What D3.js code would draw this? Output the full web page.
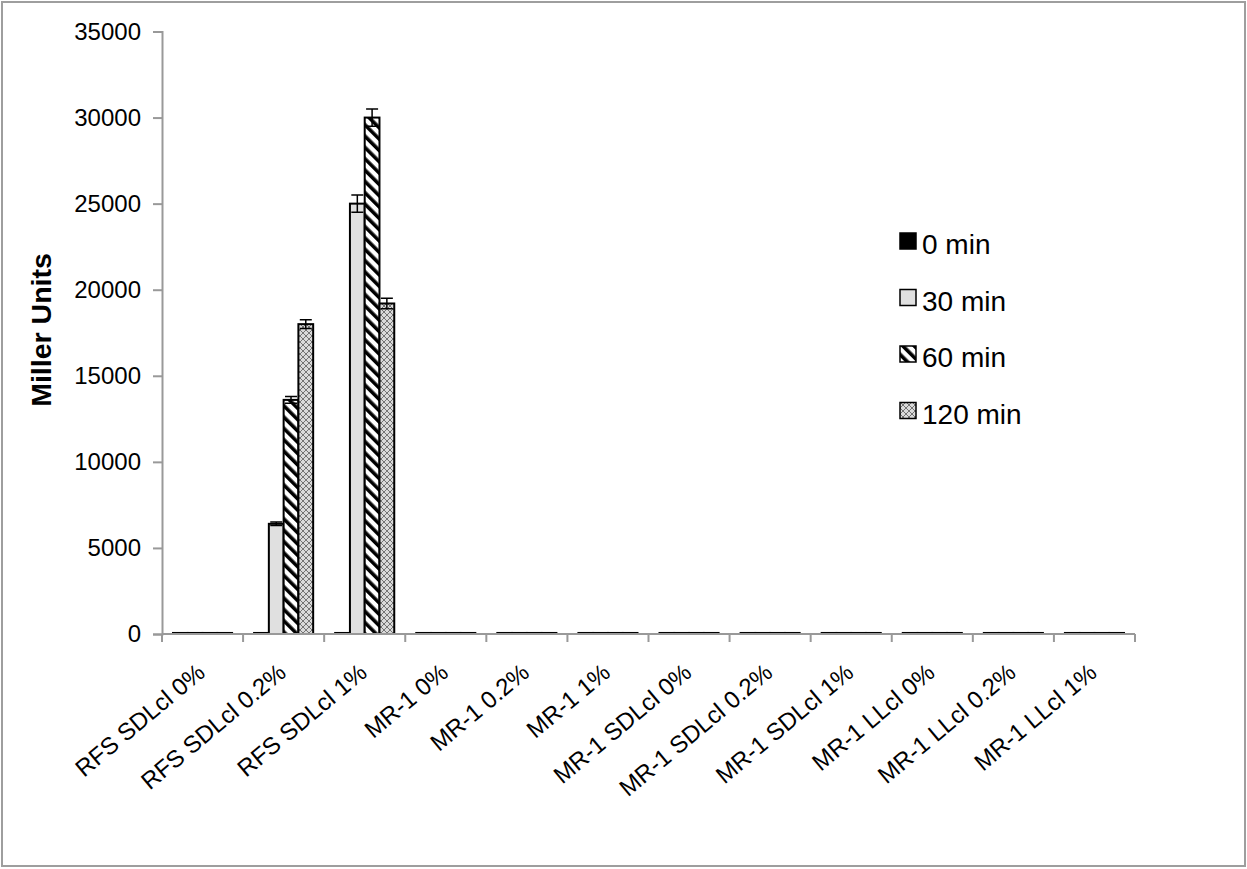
<!DOCTYPE html>
<html>
<head>
<meta charset="utf-8">
<script src="https://cdn.jsdelivr.net/npm/d3@7"></script>
<style>
  body { margin: 0; background: #fff; }
  text { font-family: "Liberation Sans", Arial, sans-serif; fill: #000; }
</style>
</head>
<body>
<svg id="chart" width="1247" height="869"></svg>
<script>
// data
const categories = ["RFS SDLcl 0%", "RFS SDLcl 0.2%", "RFS SDLcl 1%", "MR-1 0%", "MR-1 0.2%", "MR-1 1%",
  "MR-1 SDLcl 0%", "MR-1 SDLcl 0.2%", "MR-1 SDLcl 1%", "MR-1 LLcl 0%", "MR-1 LLcl 0.2%", "MR-1 LLcl 1%"];
const seriesNames = ["0 min", "30 min", "60 min", "120 min"];
const min0 = [60, 60, 60, 60, 60, 60, 60, 60, 60, 60, 60, 60];
const min30 = [60, 6400, 25000, 60, 60, 60, 60, 60, 60, 60, 60, 60];
const min60 = [60, 13600, 30000, 60, 60, 60, 60, 60, 60, 60, 60, 60];
const min120 = [60, 18000, 19200, 60, 60, 60, 60, 60, 60, 60, 60, 60];
const err30 = [0, 100, 500, 0, 0, 0, 0, 0, 0, 0, 0, 0];
const err60 = [0, 200, 500, 0, 0, 0, 0, 0, 0, 0, 0, 0];
const err120 = [0, 250, 300, 0, 0, 0, 0, 0, 0, 0, 0, 0];
const yTicks = [0, 5000, 10000, 15000, 20000, 25000, 30000, 35000];

const allValues = [min0, min30, min60, min120];
const allErrors = [null, err30, err60, err120];
const fills = ["#000", "#e0e0e0", "url(#stripes)", "url(#hatch)"];

const svg = d3.select("#chart");

// outer frame
svg.append("rect")
    .attr("x", 2).attr("y", 2).attr("width", 1243).attr("height", 864)
    .attr("fill", "none").attr("stroke", "#9e9e9e").attr("stroke-width", 2);

// patterns
const defs = svg.append("defs");
const stripes = defs.append("pattern")
    .attr("id", "stripes").attr("patternUnits", "userSpaceOnUse")
    .attr("width", 8).attr("height", 8)
    .attr("patternTransform", "rotate(-45)");
stripes.append("rect").attr("width", 8).attr("height", 8).attr("fill", "#fff");
stripes.append("rect").attr("width", 3.6).attr("height", 8).attr("fill", "#000");

const hatch = defs.append("pattern")
    .attr("id", "hatch").attr("patternUnits", "userSpaceOnUse")
    .attr("width", 6).attr("height", 6);
hatch.append("rect").attr("width", 6).attr("height", 6).attr("fill", "#dadada");
hatch.append("path").attr("d", "M0,0L6,6M6,0L0,6")
    .attr("stroke", "#5a5a5a").attr("stroke-width", 0.8);

// scales
const x0 = d3.scaleBand().domain(categories).range([162, 1135]);
const x1 = d3.scaleBand().domain(seriesNames).range([11, x0.bandwidth() - 11]);
const y = d3.scaleLinear().domain([0, 35000]).range([634, 31.5]);

// bars
seriesNames.forEach(function(s, si) {
    const g = svg.append("g");
    g.selectAll("rect")
        .data(categories)
        .enter()
        .append("rect")
        .attr("x", function(d) { return x0(d) + x1(s); })
        .attr("width", x1.bandwidth())
        .attr("y", function(d, i) { return y(allValues[si][i]); })
        .attr("height", function(d, i) { return y(0) - y(allValues[si][i]); })
        .attr("fill", fills[si])
        .attr("stroke", "#000")
        .attr("stroke-width", 2);

    if (allErrors[si]) {
        categories.forEach(function(c, i) {
            const e = allErrors[si][i];
            if (!e) return;
            const cx = x0(c) + x1(s) + x1.bandwidth() / 2;
            const v = allValues[si][i];
            g.append("path")
                .attr("d", "M" + cx + "," + y(v - e) + "V" + y(v + e) +
                    "M" + (cx - 6) + "," + y(v + e) + "H" + (cx + 6) +
                    "M" + (cx - 6) + "," + y(v - e) + "H" + (cx + 6))
                .attr("stroke", "#000").attr("stroke-width", 1.5).attr("fill", "none");
        });
    }
});

// y axis
const yAxis = svg.append("g")
    .attr("transform", "translate(162,0)")
    .call(d3.axisLeft(y).tickValues(yTicks).tickSize(9).tickPadding(12).tickFormat(d3.format("d")));
yAxis.selectAll("path, line").attr("stroke", "#999").attr("stroke-width", 2);
yAxis.selectAll("text").style("font-size", "24px").attr("font-family", null);

// x axis
const xAxis = svg.append("g").attr("transform", "translate(0,634)");
xAxis.append("line")
    .attr("x1", 162).attr("x2", 1135).attr("y1", 0).attr("y2", 0)
    .attr("stroke", "#999").attr("stroke-width", 2);
xAxis.selectAll("line.tick")
    .data(categories.concat(["end"]))
    .enter()
    .append("line")
    .attr("class", "tick")
    .attr("x1", function(d) { return d === "end" ? 1135 : x0(d); })
    .attr("x2", function(d) { return d === "end" ? 1135 : x0(d); })
    .attr("y1", 0).attr("y2", 8)
    .attr("stroke", "#999").attr("stroke-width", 2);
xAxis.selectAll("text")
    .data(categories)
    .enter()
    .append("text")
    .attr("transform", function(d) {
        return "translate(" + (x0(d) + x0.bandwidth() / 2 + 4) + ",41) rotate(-40)";
    })
    .attr("text-anchor", "end")
    .style("font-size", "24px")
    .text(function(d) { return d; });

// y title
svg.append("text")
    .attr("transform", "translate(51,330) rotate(-90)")
    .attr("text-anchor", "middle")
    .style("font-size", "28.5px")
    .style("font-weight", "bold")
    .text("Miller Units");

// legend
const legend = svg.append("g");
seriesNames.forEach(function(s, i) {
    const by = 254 + i * 56.5;
    legend.append("rect")
        .attr("x", 900).attr("y", by - 21).attr("width", 16).attr("height", 16)
        .attr("fill", fills[i]).attr("stroke", "#000").attr("stroke-width", 1.5);
    legend.append("text")
        .attr("x", 922).attr("y", by)
        .style("font-size", "28px")
        .text(s);
});
</script>
</body>
</html>
